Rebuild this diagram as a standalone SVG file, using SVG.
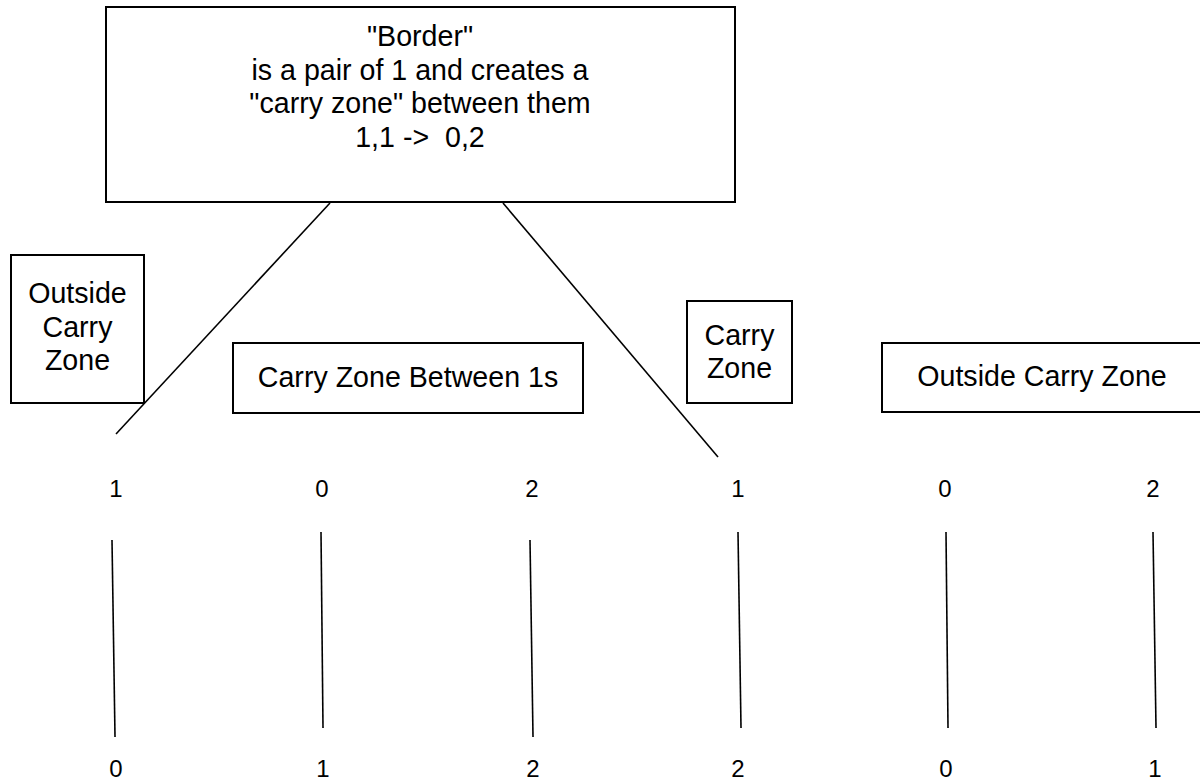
<svg xmlns="http://www.w3.org/2000/svg" width="1200" height="782" viewBox="0 0 1200 782">
<style>
.box{fill:#fff;stroke:#000;stroke-width:2}
.t{font-family:"Liberation Sans",Arial,Helvetica,sans-serif;font-size:28.6px;fill:#000;text-anchor:middle}
.n{font-family:"Liberation Sans",Arial,Helvetica,sans-serif;font-size:24px;fill:#000;text-anchor:middle}
.c{stroke:#000;stroke-width:1.6;fill:none}
</style>
<rect width="1200" height="782" fill="#fff"/>
<g id="connectors">
<line class="c" x1="330" y1="203" x2="116" y2="434"/>
<line class="c" x1="503" y1="203" x2="718" y2="457"/>
<line class="c" x1="112" y1="540" x2="115" y2="737"/>
<line class="c" x1="321" y1="532" x2="323" y2="728"/>
<line class="c" x1="530" y1="540" x2="533" y2="737"/>
<line class="c" x1="738" y1="532" x2="741" y2="728"/>
<line class="c" x1="946" y1="532" x2="948" y2="728"/>
<line class="c" x1="1153" y1="532" x2="1156" y2="728"/>
</g>
<g id="border-box">
<rect class="box" x="106" y="7" width="629" height="195"/>
<text class="t" x="420" y="46">"Border"</text>
<text class="t" x="420" y="79.5">is a pair of 1 and creates a</text>
<text class="t" x="420" y="113">"carry zone" between them</text>
<text class="t" x="420" y="146.5" xml:space="preserve">1,1 -&gt;  0,2</text>
</g>
<g id="outside-left">
<rect class="box" x="11" y="255" width="133" height="148"/>
<text class="t" x="77.5" y="303">Outside</text>
<text class="t" x="77.5" y="337">Carry</text>
<text class="t" x="77.5" y="370">Zone</text>
</g>
<g id="carry-between">
<rect class="box" x="233" y="343" width="350" height="70"/>
<text class="t" x="408" y="387">Carry Zone Between 1s</text>
</g>
<g id="carry-zone">
<rect class="box" x="687" y="301" width="105" height="102"/>
<text class="t" x="739.5" y="345">Carry</text>
<text class="t" x="739.5" y="378">Zone</text>
</g>
<g id="outside-right">
<rect class="box" x="882" y="343" width="320" height="69"/>
<text class="t" x="1042" y="386">Outside Carry Zone</text>
</g>
<g id="top-digits">
<text class="n" x="116" y="497">1</text>
<text class="n" x="322" y="497">0</text>
<text class="n" x="532" y="497">2</text>
<text class="n" x="738" y="497">1</text>
<text class="n" x="945" y="497">0</text>
<text class="n" x="1153" y="497">2</text>
</g>
<g id="bottom-digits">
<text class="n" x="116" y="777">0</text>
<text class="n" x="323" y="777">1</text>
<text class="n" x="533" y="777">2</text>
<text class="n" x="738" y="777">2</text>
<text class="n" x="946" y="777">0</text>
<text class="n" x="1155" y="777">1</text>
</g>
</svg>
